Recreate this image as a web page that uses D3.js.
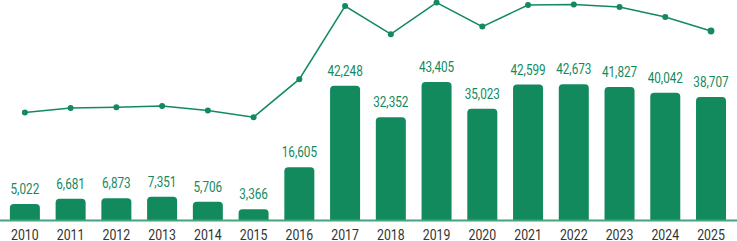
<!DOCTYPE html>
<html>
<head>
<meta charset="utf-8">
<script src="https://cdn.jsdelivr.net/npm/d3@7"></script>
<style>
  body { margin: 0; background: #fff; }
  svg { display: block; font-family: Roboto, "Noto Sans", sans-serif; }
</style>
</head>
<body>
<svg id="chart" width="737" height="241"></svg>
<script>
let years = ['2010', '2011', '2012', '2013', '2014', '2015', '2016', '2017',
             '2018', '2019', '2020', '2021', '2022', '2023', '2024', '2025']
let barValues = [5022, 6681, 6873, 7351, 5706, 3366, 16605, 42248,
                 32352, 43405, 35023, 42599, 42673, 41827, 40042, 38707]
// second series, no axis in the original, values read off relative heights
let lineValues = [8.7, 11.0, 11.4, 12.0, 9.7, 6.4, 25.4, 62.0,
                  47.9, 63.7, 51.7, 62.5, 62.7, 61.5, 56.5, 49.5]

let green = '#128a5e'
let svg = d3.select('#chart')

let x = d3.scaleBand()
    .domain(years)
    .range([2.1, 733.8])
    .paddingInner(0.344)
    .paddingOuter(0.17)

let y = d3.scaleLinear()
    .domain([0, 43405])
    .range([220, 82])

let yLine = d3.scaleLinear()
    .domain([0, 65])
    .range([130, 0])

let data = years.map((yr, i) => ({ year: yr, bar: barValues[i], line: lineValues[i] }))

// rounded-top bar path
let barPath = (d) => {
    let x0 = x(d.year), w = x.bandwidth()
    let top = y(d.bar), base = y(0)
    let r = Math.min(4, (base - top))
    return `M${x0},${base}V${top + r}Q${x0},${top} ${x0 + r},${top}` +
        `H${x0 + w - r}Q${x0 + w},${top} ${x0 + w},${top + r}V${base}Z`
}

svg.selectAll('path.bar')
    .data(data)
    .enter()
    .append('path')
    .attr('class', 'bar')
    .attr('d', barPath)
    .attr('fill', green)

// baseline
svg.append('line')
    .attr('x1', 0)
    .attr('x2', 737)
    .attr('y1', y(0) + 0.5)
    .attr('y2', y(0) + 0.5)
    .attr('stroke', '#45a47c')
    .attr('stroke-width', 2)

// value labels
svg.selectAll('text.value')
    .data(data)
    .enter()
    .append('text')
    .attr('class', 'value')
    .attr('transform', (d) => `translate(${x(d.year) + x.bandwidth() / 2},${y(d.bar) - 10}) scale(0.84,1)`)
    .attr('text-anchor', 'middle')
    .attr('font-size', 14)
    .attr('fill', green)
    .text((d) => d3.format(',')(d.bar))

// year axis
let axis = svg.append('g')
    .attr('transform', `translate(0,${y(0)})`)
    .call(d3.axisBottom(x).tickSize(0).tickPadding(0))
axis.select('.domain').remove()
axis.selectAll('text')
    .attr('y', 0)
    .attr('dy', 0)
    .attr('transform', 'translate(0,20) scale(0.88,1)')
    .attr('font-size', 14)
    .attr('font-family', 'Roboto, sans-serif')
    .attr('fill', '#333')
    .attr('text-anchor', 'middle')

// line series
let cx = (d) => x(d.year) + x.bandwidth() / 2
svg.append('path')
    .datum(data)
    .attr('fill', 'none')
    .attr('stroke', green)
    .attr('stroke-width', 1.5)
    .attr('d', d3.line().x(cx).y((d) => yLine(d.line)))

svg.selectAll('circle.dot')
    .data(data)
    .enter()
    .append('circle')
    .attr('class', 'dot')
    .attr('cx', cx)
    .attr('cy', (d) => yLine(d.line))
    .attr('r', (d, i) => i === data.length - 1 ? 3.4 : 3)
    .attr('fill', green)
</script>
</body>
</html>
